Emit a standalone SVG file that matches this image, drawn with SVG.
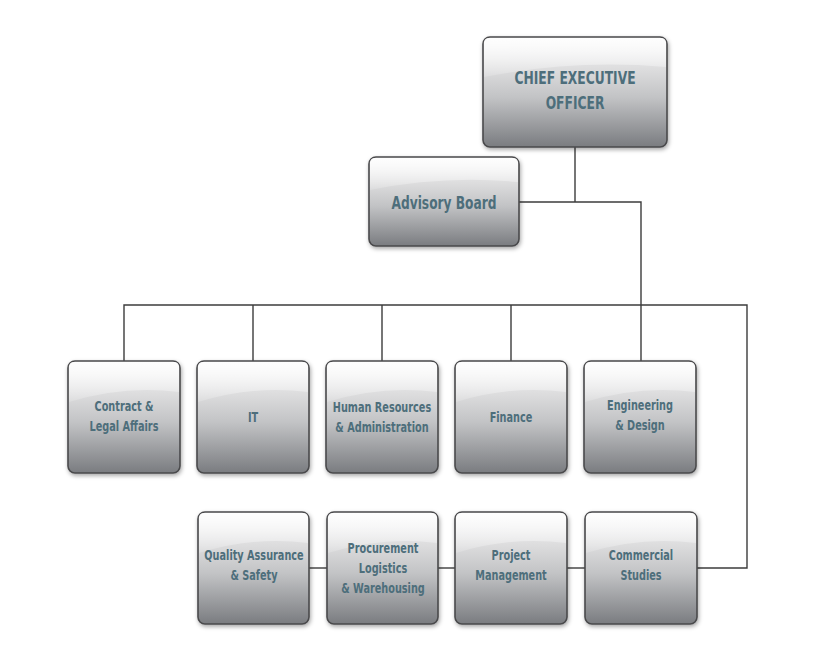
<svg xmlns="http://www.w3.org/2000/svg" width="819" height="657" viewBox="0 0 819 657">
<style>
.box{fill:url(#bg);stroke:#4a4a4c;stroke-width:1.6;filter:url(#sh)}
.gloss{fill:url(#gl)}
.t{font-family:"DejaVu Sans Condensed","Liberation Sans Narrow","Liberation Sans",sans-serif;font-weight:bold;fill:#4d6e7b;text-anchor:middle;font-stretch:condensed}
.s{font-size:13.5px}
.conn line,.conn polyline{stroke:#3c3c3c;stroke-width:1.4;fill:none}
</style>
<defs>
<linearGradient id="bg" x1="0" y1="0" x2="0" y2="1">
<stop offset="0" stop-color="#f7f7f7"/>
<stop offset="0.3" stop-color="#dcdcdd"/>
<stop offset="0.55" stop-color="#c2c3c5"/>
<stop offset="1" stop-color="#7a7c80"/>
</linearGradient>
<linearGradient id="gl" x1="0" y1="0" x2="0" y2="1">
<stop offset="0" stop-color="#ffffff" stop-opacity="0.85"/>
<stop offset="1" stop-color="#ffffff" stop-opacity="0.15"/>
</linearGradient>
<filter id="sh" x="-10%" y="-10%" width="125%" height="125%">
<feDropShadow dx="1" dy="2" stdDeviation="2" flood-color="#000" flood-opacity="0.35"/>
</filter>
</defs>
<rect width="819" height="657" fill="#ffffff"/>
<g class="conn">
<line x1="575" y1="147" x2="575" y2="202"/>
<polyline points="519,202 641,202 641,361"/>
<polyline points="124,361 124,305 747,305 747,568 697,568"/>
<line x1="253" y1="305" x2="253" y2="361"/>
<line x1="382" y1="305" x2="382" y2="361"/>
<line x1="511" y1="305" x2="511" y2="361"/>
<line x1="309" y1="568" x2="327" y2="568"/>
<line x1="438" y1="568" x2="455" y2="568"/>
<line x1="567" y1="568" x2="585" y2="568"/>
</g>
<g id="ceo" transform="translate(483,37)">
<rect class="box" width="184" height="110" rx="7"/>
<path class="gloss" d="M6,1 H178 Q183,1 183,6 V30 Q92,22 1,40 V6 Q1,1 6,1 Z"/>
<text class="t" transform="translate(92 47) scale(0.76 1)" font-size="18">CHIEF EXECUTIVE</text>
<text class="t" transform="translate(92 72) scale(0.76 1)" font-size="18">OFFICER</text>
</g>
<g id="advisory" transform="translate(369,157)">
<rect class="box" width="150" height="89" rx="7"/>
<path class="gloss" d="M6,1 H144 Q149,1 149,6 V25 Q75,18 1,33 V6 Q1,1 6,1 Z"/>
<text class="t" transform="translate(75 52) scale(0.8 1)" font-size="17">Advisory Board</text>
</g>
<g id="contract" transform="translate(68,361)">
<rect class="box" width="112" height="112" rx="7"/>
<path class="gloss" d="M6,1 H106 Q111,1 111,6 V31 Q56,24 1,41 V6 Q1,1 6,1 Z"/>
<text class="t s" transform="translate(56 50) scale(0.8 1)">Contract &amp;</text>
<text class="t s" transform="translate(56 70) scale(0.8 1)">Legal Affairs</text>
</g>
<g id="it" transform="translate(197,361)">
<rect class="box" width="112" height="112" rx="7"/>
<path class="gloss" d="M6,1 H106 Q111,1 111,6 V31 Q56,24 1,41 V6 Q1,1 6,1 Z"/>
<text class="t s" transform="translate(56 61) scale(0.8 1)">IT</text>
</g>
<g id="hr" transform="translate(326,361)">
<rect class="box" width="112" height="112" rx="7"/>
<path class="gloss" d="M6,1 H106 Q111,1 111,6 V31 Q56,24 1,41 V6 Q1,1 6,1 Z"/>
<text class="t s" transform="translate(56 51) scale(0.8 1)">Human Resources</text>
<text class="t s" transform="translate(56 71) scale(0.8 1)">&amp; Administration</text>
</g>
<g id="finance" transform="translate(455,361)">
<rect class="box" width="112" height="112" rx="7"/>
<path class="gloss" d="M6,1 H106 Q111,1 111,6 V31 Q56,24 1,41 V6 Q1,1 6,1 Z"/>
<text class="t s" transform="translate(56 61) scale(0.8 1)">Finance</text>
</g>
<g id="engineering" transform="translate(584,361)">
<rect class="box" width="112" height="112" rx="7"/>
<path class="gloss" d="M6,1 H106 Q111,1 111,6 V31 Q56,24 1,41 V6 Q1,1 6,1 Z"/>
<text class="t s" transform="translate(56 49) scale(0.8 1)">Engineering</text>
<text class="t s" transform="translate(56 69) scale(0.8 1)">&amp; Design</text>
</g>
<g id="quality" transform="translate(198,512)">
<rect class="box" width="111" height="112" rx="7"/>
<path class="gloss" d="M6,1 H105 Q110,1 110,6 V31 Q56,24 1,41 V6 Q1,1 6,1 Z"/>
<text class="t s" transform="translate(56 48) scale(0.8 1)">Quality Assurance</text>
<text class="t s" transform="translate(56 68) scale(0.8 1)">&amp; Safety</text>
</g>
<g id="procurement" transform="translate(327,512)">
<rect class="box" width="111" height="112" rx="7"/>
<path class="gloss" d="M6,1 H105 Q110,1 110,6 V31 Q56,24 1,41 V6 Q1,1 6,1 Z"/>
<text class="t s" transform="translate(56 41) scale(0.8 1)">Procurement</text>
<text class="t s" transform="translate(56 61) scale(0.8 1)">Logistics</text>
<text class="t s" transform="translate(56 81) scale(0.8 1)">&amp; Warehousing</text>
</g>
<g id="project" transform="translate(455,512)">
<rect class="box" width="112" height="112" rx="7"/>
<path class="gloss" d="M6,1 H106 Q111,1 111,6 V31 Q56,24 1,41 V6 Q1,1 6,1 Z"/>
<text class="t s" transform="translate(56 48) scale(0.8 1)">Project</text>
<text class="t s" transform="translate(56 68) scale(0.8 1)">Management</text>
</g>
<g id="commercial" transform="translate(585,512)">
<rect class="box" width="112" height="112" rx="7"/>
<path class="gloss" d="M6,1 H106 Q111,1 111,6 V31 Q56,24 1,41 V6 Q1,1 6,1 Z"/>
<text class="t s" transform="translate(56 48) scale(0.8 1)">Commercial</text>
<text class="t s" transform="translate(56 68) scale(0.8 1)">Studies</text>
</g>
</svg>
